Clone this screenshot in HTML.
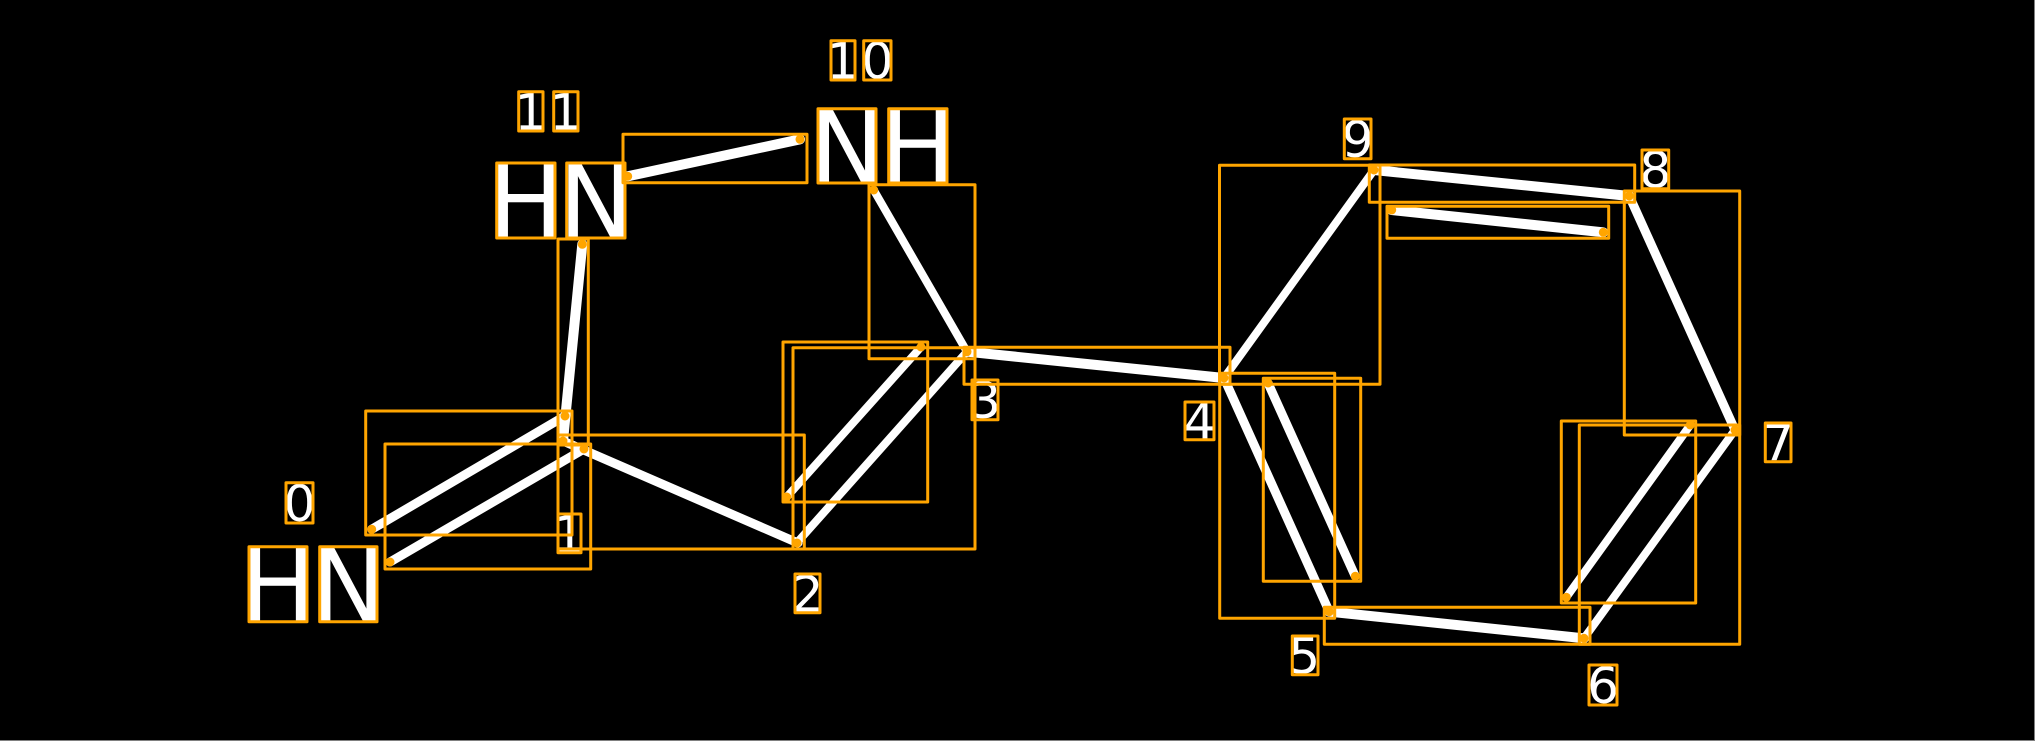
<!DOCTYPE html>
<html><head><meta charset="utf-8"><style>
html,body{margin:0;padding:0;background:#000;width:2035px;height:741px;overflow:hidden}
svg{display:block}
.b line{stroke:#fff;stroke-width:8;stroke-linecap:round}
.b .w{stroke-width:10}
.b .m{stroke-width:9}
.r rect{fill:none;stroke:#FFA500;stroke-width:3;stroke-linejoin:round}
.d circle{fill:#FFA500}
text{font-family:"DejaVu Sans",sans-serif;fill:#fff;text-anchor:middle}
.s text{font-size:50px}.l text{font-size:100px}
</style></head><body>
<svg width="2035" height="741" viewBox="0 0 2035 741" xmlns="http://www.w3.org/2000/svg">
<rect width="2035" height="741" fill="#000"/>
<rect x="2034" y="0" width="1" height="741" fill="#808080"/>
<rect x="0" y="740" width="2035" height="1" fill="#808080"/>
<g class="b">
<line class="m" x1="371.7" y1="529.3" x2="565" y2="416"/>
<line class="m" x1="390" y1="562" x2="584" y2="449"/>
<line class="m" x1="563" y1="441" x2="798" y2="543"/>
<line x1="796.7" y1="543" x2="967" y2="351.7"/>
<line x1="786.7" y1="497" x2="921" y2="347"/>
<line class="w" x1="967" y1="351.7" x2="1224" y2="378"/>
<line x1="967" y1="351.7" x2="873.7" y2="190"/>
<line x1="1224" y1="378" x2="1374" y2="170"/>
<line class="w" x1="1374" y1="170" x2="1629.3" y2="196"/>
<line class="w" x1="1391.7" y1="210" x2="1603.3" y2="232.3"/>
<line class="m" x1="1629.3" y1="196" x2="1735" y2="430"/>
<line x1="1735" y1="430" x2="1584" y2="638.3"/>
<line x1="1690.3" y1="425" x2="1566.3" y2="597.3"/>
<line class="w" x1="1584" y1="638.3" x2="1329.3" y2="611.7"/>
<line class="m" x1="1329.3" y1="611.7" x2="1224" y2="378"/>
<line class="m" x1="1355.3" y1="576.3" x2="1268" y2="383"/>
<line class="w" x1="582.3" y1="244.3" x2="563" y2="441"/>
<line class="w" x1="627.7" y1="176.3" x2="800" y2="139.3"/>
</g>
<g class="l">
<text x="278" y="620.7">H</text><text x="348.35" y="620.7">N</text>
<text x="525.85" y="237">H</text><text x="595.85" y="237">N</text>
<text x="847" y="182.3">N</text><text x="917.85" y="182.3">H</text>
</g>
<g class="s">
<text x="299.5" y="521">0</text>
<text x="569" y="551.5">1</text>
<text x="807.5" y="611.5">2</text>
<text x="985" y="418">3</text>
<text x="1199.5" y="439">4</text>
<text x="1304.3" y="673.5">5</text>
<text x="1603" y="703.2">6</text>
<text x="1778.15" y="460.5">7</text>
<text x="1655.35" y="187.5">8</text>
<text x="1357.65" y="157">9</text>
<text x="842.5" y="78.5">1</text><text x="877.35" y="78.5">0</text>
<text x="530.4" y="129.5">1</text><text x="565.4" y="129.5">1</text>
</g>
<g class="r">
<rect x="365.7" y="411" width="206.3" height="124"/>
<rect x="385" y="444" width="205.7" height="125"/>
<rect x="558" y="239" width="30.3" height="206"/>
<rect x="558" y="435" width="246.3" height="114"/>
<rect x="793" y="347.7" width="182" height="201.3"/>
<rect x="783" y="342" width="144.7" height="160"/>
<rect x="964" y="347.3" width="266" height="37"/>
<rect x="869" y="184.7" width="106" height="174"/>
<rect x="623" y="134.3" width="184" height="48.4"/>
<rect x="1219.5" y="165.3" width="160.5" height="219"/>
<rect x="1369.3" y="165" width="265.4" height="37.3"/>
<rect x="1387" y="206.3" width="221.7" height="32"/>
<rect x="1624.3" y="191" width="115.4" height="244"/>
<rect x="1579.3" y="425" width="160.4" height="219.3"/>
<rect x="1561.3" y="421" width="134.4" height="182"/>
<rect x="1324.3" y="607.3" width="265.7" height="37"/>
<rect x="1219.7" y="373.3" width="115" height="245"/>
<rect x="1263.3" y="378.3" width="97.4" height="203"/>
<rect x="249" y="546.7" width="58" height="75"/>
<rect x="319.7" y="546.7" width="57.3" height="75"/>
<rect x="496.7" y="163" width="58.3" height="75"/>
<rect x="566.7" y="163" width="58.3" height="75"/>
<rect x="818" y="108.7" width="58" height="74.3"/>
<rect x="888.7" y="108.7" width="58.3" height="74.3"/>
<rect x="286" y="482.7" width="27" height="40.3"/>
<rect x="558" y="514" width="23" height="38.7"/>
<rect x="795" y="574" width="25" height="38.7"/>
<rect x="972" y="380" width="26" height="39.7"/>
<rect x="1185" y="402" width="29" height="37.7"/>
<rect x="1292.3" y="636" width="25.7" height="38.7"/>
<rect x="1589" y="665" width="28" height="40"/>
<rect x="1765.3" y="423" width="25.7" height="38.7"/>
<rect x="1642" y="150" width="26.7" height="38.7"/>
<rect x="1344.3" y="119" width="26.7" height="39.7"/>
<rect x="831" y="40.7" width="24" height="39.3"/>
<rect x="863.7" y="40.7" width="27.3" height="39.3"/>
<rect x="518.7" y="91.7" width="24.3" height="39.3"/>
<rect x="553.7" y="91.7" width="24.3" height="39.3"/>
</g>
<g class="d">
<circle cx="371.7" cy="529.3" r="4.5"/><circle cx="565" cy="416" r="4.5"/>
<circle cx="390" cy="562" r="4.5"/><circle cx="584" cy="449" r="4.5"/>
<circle cx="563" cy="441" r="4.5"/><circle cx="797" cy="543" r="4.5"/>
<circle cx="786.7" cy="497" r="4.5"/><circle cx="921" cy="347" r="4.5"/>
<circle cx="967" cy="351.7" r="4.5"/><circle cx="1224" cy="378" r="4.5"/>
<circle cx="873.7" cy="190" r="4.5"/><circle cx="1374" cy="170" r="4.5"/>
<circle cx="1629.3" cy="196" r="4.5"/><circle cx="1391.7" cy="210" r="4.5"/>
<circle cx="1603.3" cy="232.3" r="4.5"/><circle cx="1735" cy="430" r="4.5"/>
<circle cx="1584" cy="638.3" r="4.5"/><circle cx="1690.3" cy="425" r="4.5"/>
<circle cx="1566.3" cy="597.3" r="4.5"/><circle cx="1329.3" cy="611.7" r="4.5"/>
<circle cx="1355.3" cy="576.3" r="4.5"/><circle cx="1268" cy="383" r="4.5"/>
<circle cx="582.3" cy="244.3" r="4.5"/><circle cx="627.7" cy="176.3" r="4.5"/>
<circle cx="800" cy="139.3" r="4.5"/>
</g>
</svg>
</body></html>
